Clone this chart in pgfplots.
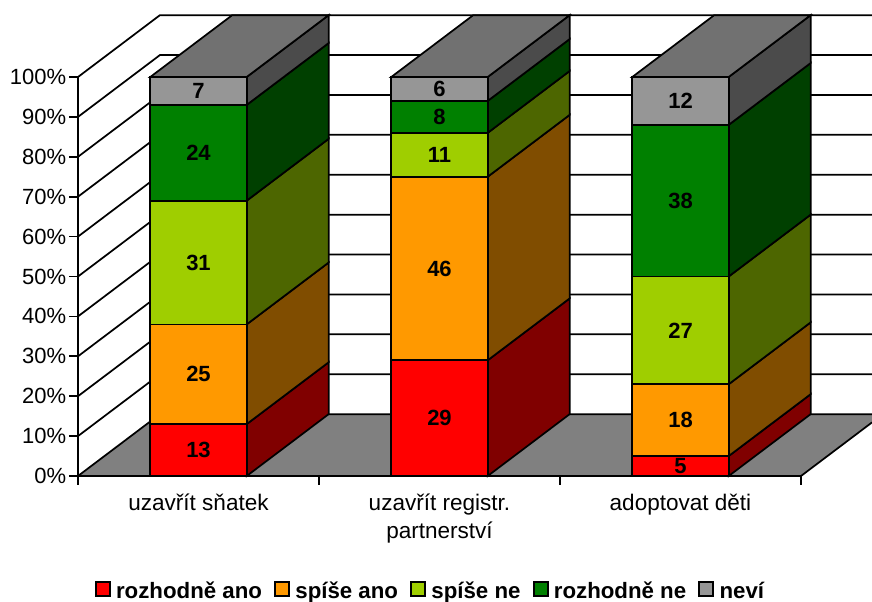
\documentclass[border=0pt]{standalone}
\usepackage{fontspec}
\setmainfont{Liberation Sans}
\usepackage{pgfplots}
\usepackage{pgfplotstable}
\pgfplotsset{compat=1.18}
\definecolor{cA}{HTML}{FF0000}\definecolor{cAs}{HTML}{800000}
\definecolor{cB}{HTML}{FF9900}\definecolor{cBs}{HTML}{804D00}
\definecolor{cC}{HTML}{9FCE00}\definecolor{cCs}{HTML}{4D6600}
\definecolor{cD}{HTML}{008000}\definecolor{cDs}{HTML}{004000}
\definecolor{cE}{HTML}{969696}\definecolor{cEs}{HTML}{4B4B4B}
\definecolor{cT}{HTML}{717171}
\definecolor{cF}{HTML}{808080}
\pgfplotstableread{
x   A  B  C  D  E
0.5 13 25 31 24 7
1.5 29 46 11 8  6
2.5 5  18 27 38 12
}\datatable
\newcommand{\fs}{\fontsize{16.5}{21}\selectfont}
\newcommand{\fx}{\fontsize{16.9}{21}\selectfont}
\newcommand{\fl}{\fontsize{16.7}{21}\selectfont}
\tikzset{ln/.style={line width=1.3pt,draw=black}}
\begin{document}
\begin{tikzpicture}
\path[use as bounding box] (0,0) rectangle (654pt,450.75pt);
\begin{axis}[
  at={(58.5pt,93.75pt)},anchor=south west,
  scale only axis,width=542.25pt,height=299.25pt,
  xmin=0,xmax=3,ymin=0,ymax=100,clip=false,
  axis x line*=bottom,axis y line*=left,
  axis line style={line width=1.3pt,-},
  tick style={line width=1.3pt,black},
  tick align=outside,
  ytick={0,10,...,100},
  yticklabel={\pgfmathprintnumber{\tick}\%},
  /pgf/number format/assume math mode=true,
  y tick label style={font=\fs,xshift=1.1pt},
  major tick length=6.5pt,
  xtick={0,1,2,3},xticklabels={},
  extra x ticks={0.5,1.5,2.5},
  extra x tick labels={uzavřít sňatek,{uzavřít registr.\\partnerství},adoptovat děti},
  extra x tick style={major tick length=0pt,
    tick label style={font=\fx,align=center,yshift=-10.25pt}},
  every axis plot/.append style={mark=none},
]
\addplot[ln] coordinates {(0,10)(0.34,25.5)(3.2946,25.5)};
\addplot[ln] coordinates {(0,20)(0.34,35.5)(3.2946,35.5)};
\addplot[ln] coordinates {(0,30)(0.34,45.5)(3.2946,45.5)};
\addplot[ln] coordinates {(0,40)(0.34,55.5)(3.2946,55.5)};
\addplot[ln] coordinates {(0,50)(0.34,65.5)(3.2946,65.5)};
\addplot[ln] coordinates {(0,60)(0.34,75.5)(3.2946,75.5)};
\addplot[ln] coordinates {(0,70)(0.34,85.5)(3.2946,85.5)};
\addplot[ln] coordinates {(0,80)(0.34,95.5)(3.2946,95.5)};
\addplot[ln] coordinates {(0,90)(0.34,105.5)(3.2946,105.5)};
\addplot[ln] coordinates {(0,100)(0.34,115.5)(3.2946,115.5)};
\addplot[fill=cF,draw=none] coordinates {(0,0)(0.34,15.5)(3.2946,15.5)(3.2946,13.43)(3,0)} --cycle;
\addplot[ln] coordinates {(0,0)(0.34,15.5)(3.2946,15.5)};
\addplot[ln] coordinates {(0,0)(3,0)(3.2946,13.43)};
\addplot[ln,fill=cAs] coordinates {(0.7,0)(1.04,15.5)(1.04,28.5)(0.7,13)} --cycle;
\addplot[ln,fill=cBs] coordinates {(0.7,13)(1.04,28.5)(1.04,53.5)(0.7,38)} --cycle;
\addplot[ln,fill=cCs] coordinates {(0.7,38)(1.04,53.5)(1.04,84.5)(0.7,69)} --cycle;
\addplot[ln,fill=cDs] coordinates {(0.7,69)(1.04,84.5)(1.04,108.5)(0.7,93)} --cycle;
\addplot[ln,fill=cEs] coordinates {(0.7,93)(1.04,108.5)(1.04,115.5)(0.7,100)} --cycle;
\addplot[ln,fill=cT] coordinates {(0.3,100)(0.64,115.5)(1.04,115.5)(0.7,100)} --cycle;
\addplot[ln,fill=cAs] coordinates {(1.7,0)(2.04,15.5)(2.04,44.5)(1.7,29)} --cycle;
\addplot[ln,fill=cBs] coordinates {(1.7,29)(2.04,44.5)(2.04,90.5)(1.7,75)} --cycle;
\addplot[ln,fill=cCs] coordinates {(1.7,75)(2.04,90.5)(2.04,101.5)(1.7,86)} --cycle;
\addplot[ln,fill=cDs] coordinates {(1.7,86)(2.04,101.5)(2.04,109.5)(1.7,94)} --cycle;
\addplot[ln,fill=cEs] coordinates {(1.7,94)(2.04,109.5)(2.04,115.5)(1.7,100)} --cycle;
\addplot[ln,fill=cT] coordinates {(1.3,100)(1.64,115.5)(2.04,115.5)(1.7,100)} --cycle;
\addplot[ln,fill=cAs] coordinates {(2.7,0)(3.04,15.5)(3.04,20.5)(2.7,5)} --cycle;
\addplot[ln,fill=cBs] coordinates {(2.7,5)(3.04,20.5)(3.04,38.5)(2.7,23)} --cycle;
\addplot[ln,fill=cCs] coordinates {(2.7,23)(3.04,38.5)(3.04,65.5)(2.7,50)} --cycle;
\addplot[ln,fill=cDs] coordinates {(2.7,50)(3.04,65.5)(3.04,103.5)(2.7,88)} --cycle;
\addplot[ln,fill=cEs] coordinates {(2.7,88)(3.04,103.5)(3.04,115.5)(2.7,100)} --cycle;
\addplot[ln,fill=cT] coordinates {(2.3,100)(2.64,115.5)(3.04,115.5)(2.7,100)} --cycle;
\end{axis}
\begin{axis}[
  at={(58.5pt,93.75pt)},anchor=south west,
  scale only axis,width=542.25pt,height=299.25pt,
  xmin=0,xmax=3,ymin=0,ymax=100,clip=false,hide axis,
  ybar stacked,bar width=72.3pt,
  /pgf/number format/assume math mode=true,
  legend columns=5,
  legend style={at={(0.488,-0.288)},anchor=center,draw=none,fill=none,
    font=\fl\bfseries,inner sep=0pt,
    /tikz/every even column/.append style={column sep=7.1pt},
    /tikz/every odd column/.append style={column sep=1.9pt}},
  legend image code/.code={\draw[ln,#1,line width=1.5pt] (0pt,-4pt) rectangle (10.5pt,6.5pt);},
  nodes near coords={\fs\bfseries\pgfmathprintnumber{\pgfplotspointmeta}},
  every node near coord/.append style={anchor=center,inner sep=0pt,text=black},
]
\addplot[ln,fill=cA] table[x=x,y=A,meta=A]{\datatable};
\addlegendentry{rozhodně ano}
\addplot[ln,fill=cB] table[x=x,y=B,meta=B]{\datatable};
\addlegendentry{spíše ano}
\addplot[ln,fill=cC] table[x=x,y=C,meta=C]{\datatable};
\addlegendentry{spíše ne}
\addplot[ln,fill=cD] table[x=x,y=D,meta=D]{\datatable};
\addlegendentry{rozhodně ne}
\addplot[ln,fill=cE] table[x=x,y=E,meta=E]{\datatable};
\addlegendentry{neví}
\end{axis}
\end{tikzpicture}
\end{document}
